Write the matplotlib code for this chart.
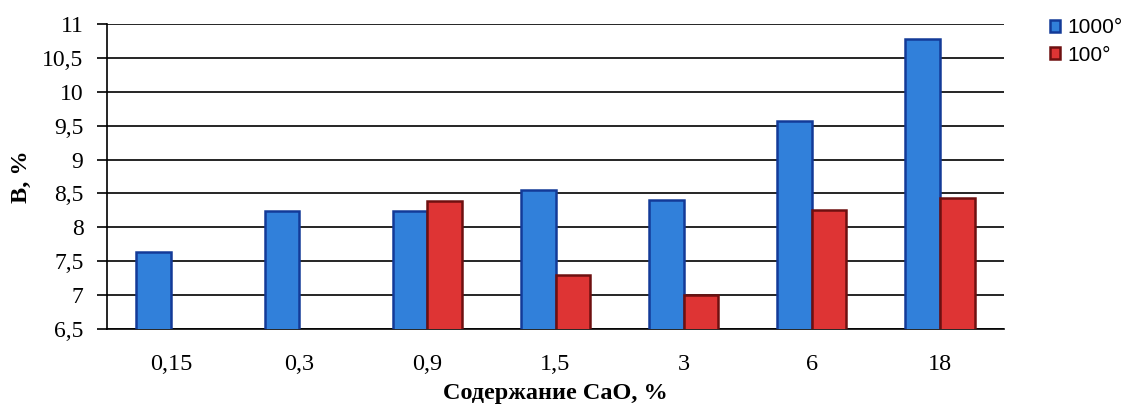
import numpy as np
import matplotlib
matplotlib.use("Agg")
import matplotlib.pyplot as plt

categories = ["0,15", "0,3", "0,9", "1,5", "3", "6", "18"]
series_names = ["1000°", "100°"]
v1000 = [7.64, 8.24, 8.24, 8.55, 8.41, 9.57, 10.78]
v100 = [np.nan, np.nan, 8.39, 7.29, 7.0, 8.25, 8.44]
yticks = [6.5, 7, 7.5, 8, 8.5, 9, 9.5, 10, 10.5, 11]
ytick_labels = ["6,5", "7", "7,5", "8", "8,5", "9", "9,5", "10", "10,5", "11"]

plt.rcParams["font.family"] = ["Liberation Serif", "DejaVu Serif"]

fig = plt.figure(figsize=(11.29, 4.05), dpi=100)
ax = fig.add_axes([107 / 1129, 76 / 405, 897 / 1129, 305 / 405])

x = np.arange(len(categories))
w = 0.27
ax.bar(x - w / 2, v1000, w, color="#3180da", edgecolor="#133a98",
       linewidth=1.8, label=series_names[0], zorder=3)
ax.bar(x + w / 2, v100, w, color="#de3434", edgecolor="#6e1010",
       linewidth=1.8, label=series_names[1], zorder=3)

ax.set_ylim(6.5, 11)
ax.set_xlim(-0.5, len(categories) - 0.5)
ax.set_yticks(yticks)
ax.set_yticklabels(ytick_labels, fontsize=17)
ax.set_xticks(x)
ax.set_xticklabels(categories, fontsize=17.5)
ax.tick_params(axis="x", length=0, pad=18)
ax.tick_params(axis="y", length=7, width=1.2, direction="out", pad=10)
ax.grid(axis="y", color="black", linewidth=1.2, zorder=0)
for s in ["top", "right"]:
    ax.spines[s].set_visible(False)
ax.spines["left"].set_linewidth(1.2)
ax.spines["bottom"].set_linewidth(1.2)

ax.set_xlabel("Содержание CaO, %", fontsize=17.5, fontweight="bold", labelpad=6)
ax.set_ylabel("B, %", fontsize=17.5, fontweight="bold", labelpad=7)

leg = ax.legend(loc="upper left", bbox_to_anchor=(1.03, 1.08), frameon=False,
                prop={"family": "Liberation Sans", "size": 15},
                handlelength=0.5, handleheight=0.5, handletextpad=0.35,
                labelspacing=0.4)

fig.savefig("out.png", dpi=100)
